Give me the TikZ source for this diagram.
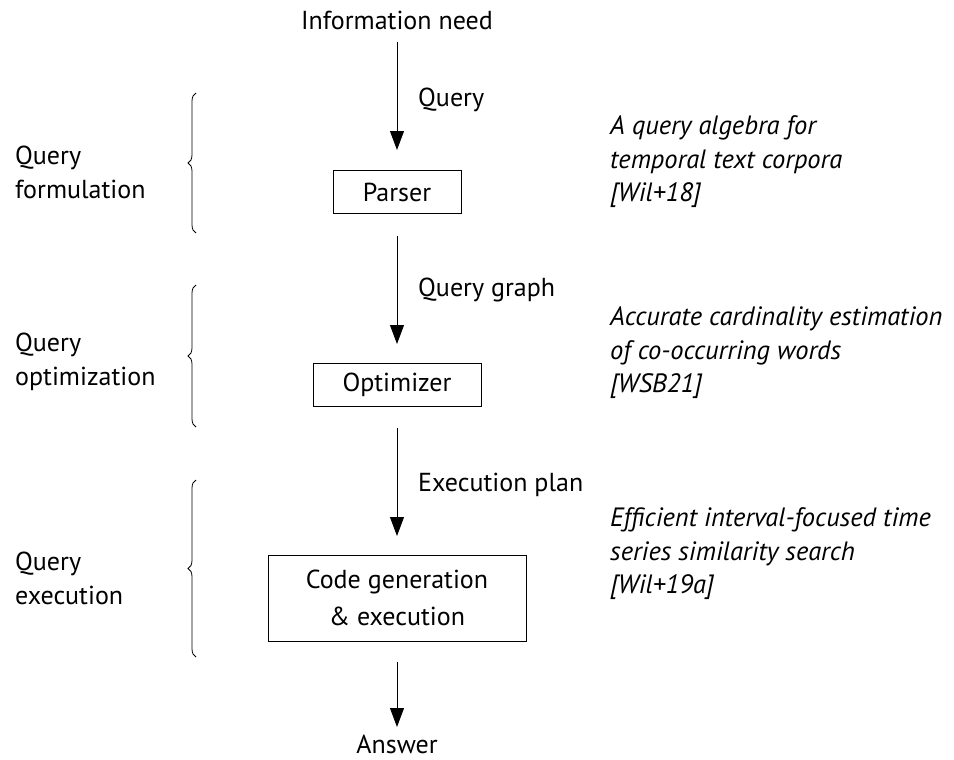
\documentclass[tikz,border=0pt]{standalone}
\usepackage{fontspec}
\setmainfont{PT Sans}
\usetikzlibrary{decorations.pathreplacing,arrows.meta}
\begin{document}
\begin{tikzpicture}[x=1pt,y=-1pt,
  font=\fontsize{26}{34}\selectfont,
  box/.style={draw,line width=0.9pt,minimum height=43pt,inner sep=0pt,align=center},
  flow/.style={-{Triangle[length=19pt,width=14pt]},line width=0.9pt},
  lbl/.style={anchor=west,inner sep=0pt},
  side/.style={anchor=west,align=left,inner sep=0pt},
  cite/.style={anchor=west,align=left,inner sep=0pt,font=\fontsize{26.5}{33.5}\selectfont\itshape},
  brc/.style={decorate,decoration={brace,amplitude=8pt},line width=0.8pt}]
\useasboundingbox (0,0) rectangle (954,760);
\node (need) at (397,20) {Information need};
\coordinate (a1s) at (397,42);
\coordinate (a1e) at (397,150);
\draw[flow] (a1s) -- (a1e);
\node[lbl] (q) at (418,100) {Query};
\node[box,minimum width=128pt] (parser) at (397,192) {Parser};
\coordinate (a2s) at (397,236);
\coordinate (a2e) at (397,344);
\draw[flow] (a2s) -- (a2e);
\node[lbl] (qg) at (418,290) {Query graph};
\node[box,minimum width=168pt] (opt) at (397,385) {Optimizer};
\coordinate (a3s) at (397,428);
\coordinate (a3e) at (397,536);
\draw[flow] (a3s) -- (a3e);
\node[lbl] (ep) at (418,485) {Execution plan};
\node[box,minimum width=258pt,minimum height=86pt,font=\fontsize{26}{37}\selectfont] (code) at (397,598) {Code generation\\ \& execution};
\coordinate (a4s) at (397,662);
\coordinate (a4e) at (397,727);
\draw[flow] (a4s) -- (a4e);
\node (ans) at (397,744) {Answer};
% braces
\coordinate (b1b) at (196,233); \coordinate (b1t) at (196,93);
\draw[brc] (b1b) -- (b1t);
\coordinate (b2b) at (196,427); \coordinate (b2t) at (196,285);
\draw[brc] (b2b) -- (b2t);
\coordinate (b3b) at (196,657); \coordinate (b3t) at (196,480);
\draw[brc] (b3b) -- (b3t);
% left labels
\node[side] (l1) at (15,172) {Query\\formulation};
\node[side] (l2) at (15,362) {Query\\optimization};
\node[side] (l3) at (15,578) {Query\\execution};
% right citations
\node[cite] (c1) at (610,162) {A query algebra for\\temporal text corpora\\{[}Wil+18{]}};
\node[cite] (c2) at (610,353) {Accurate cardinality estimation\\of co-occurring words\\{[}WSB21{]}};
\node[cite] (c3) at (610,554) {Efficient interval-focused time\\series similarity search\\{[}Wil+19a{]}};
\end{tikzpicture}
\end{document}
